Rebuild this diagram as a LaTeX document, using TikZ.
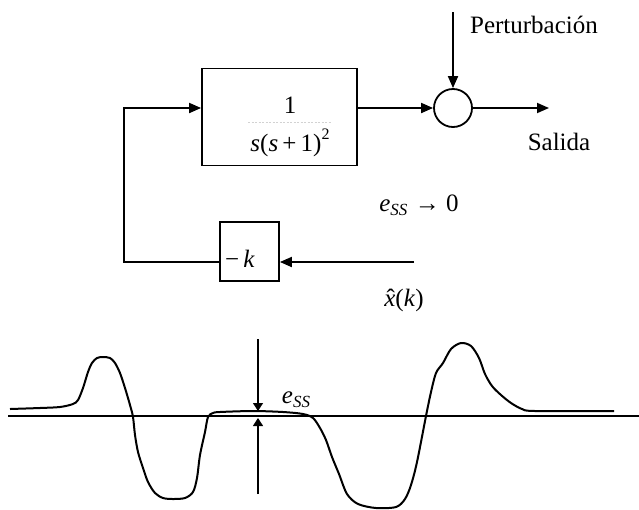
\documentclass[tikz,border=0pt]{standalone}
\usepackage{fontspec}
\setmainfont{Liberation Serif}
\usetikzlibrary{arrows.meta}
\begin{document}
\begin{tikzpicture}[x=1pt,y=-1pt,line width=1.8pt,
  arr/.style={-{Triangle[length=12pt,width=10pt]}},
  sarr/.style={-{Triangle[length=8pt,width=10pt]}},
  lbl/.style={font=\fontsize{25}{29}\selectfont,inner sep=0pt},
  blk/.style={draw,line width=1.8pt,inner sep=0pt}]
\useasboundingbox (0,0) rectangle (639,509);
% ---------- block diagram ----------
\node[blk,minimum width=155pt,minimum height=97pt] (G) at (279.5,117) {};
\node[lbl] (num) at (290,105) {1};
\node[lbl] (den) at (290,143) {\textit{s}(\textit{s}\,+\,1)\raisebox{1.0ex}{\fontsize{16}{16}\selectfont 2}};
\draw[gray!35,line width=0.8pt,dash pattern=on 2pt off 1.5pt] (248,122) -- (332,122);
\node[draw,circle,minimum size=38pt,inner sep=0pt,line width=1.8pt] (S) at (453,108) {};
\node[blk,minimum width=59pt,minimum height=59pt] (K) at (249.5,251.5) {};
\node[lbl] (ktext) at (240,259) {−\,\textit{k}};
\coordinate (c1) at (124,108);
\coordinate (c2) at (124,262);
\coordinate (pin) at (453,12);
\coordinate (out) at (549,108);
\coordinate (xin) at (414,262);
\draw[arr] (K.west |- c2) -- (c2) -- (c1) -- (G.west |- c1);
\draw[arr] (G.east |- c1) -- (S.west);
\draw[arr] (pin) -- (S.north);
\draw[arr] (S.east) -- (out);
\draw[arr] (xin) -- (K.east |- xin);
\node[lbl] (pert) at (534,25) {Perturbación};
\node[lbl] (sal) at (559,142) {Salida};
\node[lbl] (ess) at (419,205) {\textit{e}\raisebox{-0.35ex}{\fontsize{17}{17}\selectfont\textit{SS}}\hspace{0.3em}→\hspace{0.25em}0};
\node[lbl] (xhat) at (404,300) {\textit{x}\llap{ˆ\hspace{0.02em}}(\textit{k})};
% ---------- response plot ----------
\coordinate (axL) at (8,416);
\coordinate (axR) at (639,416);
\draw[line width=1.6pt] (axL) -- (axR);
\draw[line width=2pt,line join=round] plot[smooth,tension=0.5] coordinates {
 (10,409) (40,408) (60,407) (73,404) (78,400) (83,388) (88,372) (92,363)
 (97,358) (103,357) (110,358) (115,363) (120,373) (125,388) (130,405)
 (133,417) (135,435) (138,452) (143,468) (148,482) (155,493) (163,498)
 (173,499) (185,498) (193,492) (197,478) (200,455) (205,432) (208,417)
 (213,413) (220,412) (253,411) (283,412)
 (303,414) (313,418) (320,428) (326,440) (332,457) (339,474) (347,494)
 (358,504) (376,508) (396,507) (405,499) (411,485) (417,462) (426,416) (431,392)
 (436,373) (443,363) (451,349) (461,343) (471,346) (479,358) (485,374)
 (492,386) (501,395) (511,403) (522,409) (535,411) (614,411)};
\coordinate (mtop) at (258,339);
\coordinate (mcurve) at (258,411);
\coordinate (mbot) at (258,494);
\coordinate (maxis) at (258,418);
\draw[line width=1.2pt,sarr] (mtop) -- (mcurve);
\draw[line width=1.2pt,sarr] (mbot) -- (maxis);
\node[lbl] (ess2) at (296,400) {\textit{e}\raisebox{-0.35ex}{\fontsize{17}{17}\selectfont\textit{SS}}};
\end{tikzpicture}
\end{document}
